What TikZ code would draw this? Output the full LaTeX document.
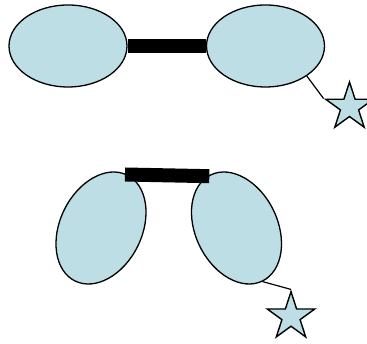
\documentclass[tikz,border=0pt]{standalone}
\usepackage{tikz}
\usetikzlibrary{shapes.geometric}
\definecolor{paleblue}{RGB}{188,222,228}

\begin{document}
\begin{tikzpicture}[x = 1pt, y = 1pt,
        lobe/.style = {ellipse, draw = black, line width = 1.3pt, fill = paleblue,
                       minimum width = 118pt, minimum height = 82pt, inner sep = 0pt},
        tag/.style = {star, star points = 5, star point ratio = 2.618, draw = black,
                      line width = 1.4pt, fill = paleblue, minimum size = 50pt, inner sep = 0pt},
        tether/.style = {line width = 1.2pt},
        rod/.style = {line width = 14pt}]
        \useasboundingbox (0,0) rectangle (367,344);

        \begin{scope}
        % straight molecule
        \node[lobe] (lobeA) at (68,298) {};
        \node[lobe] (lobeB) at (265.5,298) {};
        \node[tag] (tagA) at (349.5,237) {};

        \draw[rod] (lobeA.east) -- (lobeB.west);
        \draw[tether] (lobeB.-36) -- (tagA.outer point 2);
        \end{scope}

        \begin{scope}
        % bent molecule
        \node[lobe, rotate = 64] (lobeC) at (101,116) {};
        \node[lobe, rotate = -64] (lobeD) at (236.5,116) {};
        \node[tag] (tagB) at (291,27.3) {};

        \coordinate (rodL) at (125,169.5);
        \coordinate (rodR) at (209.3,167.8);
        \draw[rod] (rodL) -- (rodR);
        \draw[tether] (lobeD.east) -- (tagB.outer point 1);
        \end{scope}
\end{tikzpicture}
\end{document}
